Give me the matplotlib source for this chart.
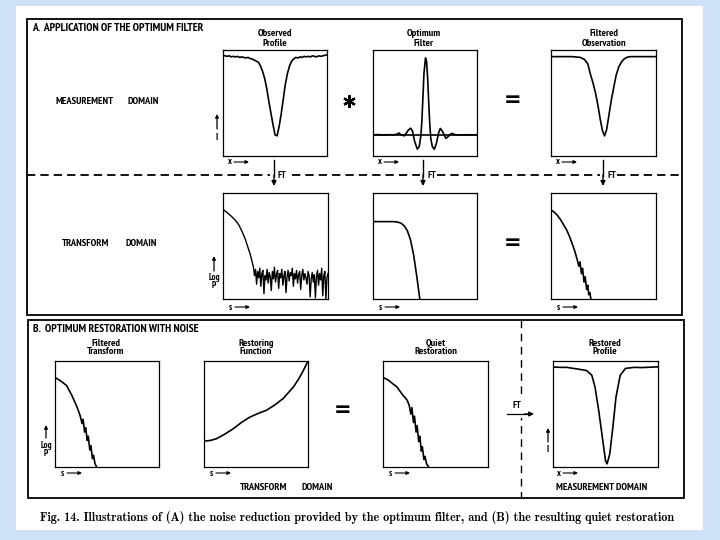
import matplotlib
matplotlib.use('Agg')
import matplotlib.pyplot as plt
from matplotlib.patches import Rectangle
import numpy as np

plt.rcParams['font.family'] = ['PT Sans Narrow', 'IBM Plex Sans Condensed', 'DejaVu Sans']

# ---------------- data (normalized panel coordinates) -------------
obs_profile_y = [0.95, 0.945, 0.94, 0.945, 0.935, 0.94, 0.935, 0.94, 0.93, 0.935,
                 0.93, 0.925, 0.93, 0.92, 0.915, 0.905, 0.895, 0.885, 0.85, 0.80,
                 0.735, 0.64, 0.52, 0.41, 0.30, 0.20, 0.19, 0.28, 0.40, 0.54,
                 0.68, 0.78, 0.85, 0.895, 0.915, 0.93, 0.925, 0.935, 0.93, 0.94,
                 0.935, 0.94, 0.935, 0.945, 0.94, 0.935, 0.945, 0.94, 0.945, 0.95,
                 0.955]

filter_x = [0.00, 0.05, 0.10, 0.15, 0.20, 0.23, 0.25, 0.27, 0.30, 0.32, 0.34, 0.363,
            0.38, 0.40, 0.426, 0.445, 0.46, 0.47, 0.48, 0.49, 0.505, 0.515, 0.525,
            0.535, 0.545, 0.555, 0.57, 0.59, 0.61, 0.63, 0.647, 0.67, 0.70, 0.73,
            0.757, 0.78, 0.80, 0.85, 0.90, 1.00]
filter_y = [0.20, 0.202, 0.198, 0.201, 0.20, 0.205, 0.217, 0.20, 0.19, 0.215, 0.245, 0.262,
            0.235, 0.14, 0.065, 0.09, 0.19, 0.33, 0.55, 0.78, 0.925, 0.89, 0.74,
            0.52, 0.32, 0.17, 0.09, 0.064, 0.12, 0.215, 0.26, 0.23, 0.166, 0.19,
            0.214, 0.205, 0.198, 0.20, 0.20, 0.20]
filter_baseline = 0.198

filt_obs_x = [0.00, 0.20, 0.28, 0.32, 0.35, 0.377, 0.40, 0.425, 0.45, 0.47, 0.49, 0.51,
              0.53, 0.55, 0.575, 0.60, 0.62, 0.645, 0.67, 0.69, 0.72, 0.755, 1.00]
filt_obs_y = [0.9375, 0.9375, 0.93, 0.91, 0.87, 0.766, 0.69, 0.59, 0.46, 0.34, 0.24, 0.19,
              0.25, 0.375, 0.53, 0.66, 0.76, 0.84, 0.885, 0.91, 0.93, 0.9375, 0.9375]

obs_tr_x = [0.00, 0.04, 0.08, 0.12, 0.15, 0.18, 0.21, 0.24, 0.26, 0.28, 0.29]
obs_tr_y = [0.845, 0.815, 0.78, 0.74, 0.70, 0.64, 0.57, 0.48, 0.42, 0.34, 0.30]
obs_tr_noise = [0.22, 0.28, 0.14, 0.26, 0.20, 0.29, 0.12, 0.24, 0.27, 0.05, 0.22, 0.18,
                0.28, 0.15, 0.25, 0.21, 0.08, 0.26, 0.19, 0.30, 0.16, 0.23, 0.27, 0.10,
                0.24, 0.20, 0.28, 0.13, 0.22, 0.26, 0.06, 0.21, 0.27, 0.17, 0.25, 0.22,
                0.29, 0.12, 0.24, 0.19, 0.27, 0.15, 0.23, 0.26, 0.09, 0.22, 0.28, 0.18,
                0.24, 0.20, 0.14, 0.26, 0.22, 0.02, 0.19, 0.25, 0.16, 0.23, 0.01, 0.21,
                0.27, 0.13, 0.24, 0.18, 0.29, 0.03, 0.22, 0.26, 0.00, 0.20, 0.24]

filt_tr_x = [0.00, 0.20, 0.24, 0.27, 0.30, 0.33, 0.36, 0.39, 0.42, 0.45]
filt_tr_y = [0.73, 0.73, 0.725, 0.715, 0.69, 0.645, 0.56, 0.42, 0.22, 0.0]

fobs_tr_x = [0.00, 0.03, 0.06, 0.09, 0.12, 0.15, 0.18, 0.21, 0.23, 0.25, 0.265, 0.275,
             0.29, 0.30, 0.315, 0.325, 0.34, 0.35, 0.36, 0.37, 0.38]
fobs_tr_y = [0.84, 0.82, 0.79, 0.75, 0.70, 0.65, 0.58, 0.50, 0.44, 0.37, 0.31, 0.35,
             0.24, 0.29, 0.16, 0.21, 0.09, 0.13, 0.04, 0.06, 0.0]

b_filt_tr_x = [0.00, 0.05, 0.11, 0.16, 0.21, 0.24, 0.26, 0.27, 0.285, 0.295, 0.31,
               0.32, 0.335, 0.345, 0.36, 0.37, 0.385, 0.40]
b_filt_tr_y = [0.845, 0.815, 0.77, 0.68, 0.57, 0.49, 0.41, 0.45, 0.33, 0.37, 0.25,
               0.29, 0.16, 0.20, 0.08, 0.11, 0.03, 0.0]

restore_x = [0.00, 0.06, 0.12, 0.20, 0.28, 0.36, 0.44, 0.52, 0.60, 0.68, 0.76, 0.81,
             0.86, 0.91, 0.955, 1.00]
restore_y = [0.245, 0.25, 0.267, 0.31, 0.36, 0.42, 0.47, 0.505, 0.535, 0.585, 0.645,
             0.70, 0.755, 0.83, 0.91, 1.00]

quiet_x = [0.00, 0.05, 0.10, 0.133, 0.18, 0.23, 0.25, 0.265, 0.275, 0.29, 0.30, 0.315,
           0.325, 0.34, 0.35, 0.365, 0.375, 0.39, 0.40, 0.415, 0.435]
quiet_y = [0.845, 0.82, 0.78, 0.755, 0.69, 0.63, 0.58, 0.50, 0.56, 0.42, 0.48, 0.33,
           0.39, 0.24, 0.29, 0.15, 0.19, 0.07, 0.10, 0.03, 0.0]

rest_prof_x = [0.00, 0.07, 0.13, 0.23, 0.32, 0.37, 0.40, 0.435, 0.47, 0.50, 0.515,
               0.54, 0.57, 0.60, 0.64, 0.69, 0.77, 0.85, 1.00]
rest_prof_y = [0.943, 0.94, 0.94, 0.925, 0.91, 0.865, 0.755, 0.535, 0.28, 0.06, 0.03,
               0.12, 0.375, 0.66, 0.865, 0.93, 0.94, 0.938, 0.945]

caption = ("Fig. 14. Illustrations of (A) the noise reduction provided by the optimum "
           "filter, and (B) the resulting quiet restoration")

# ---------------- figure ----------------
W, H = 720, 540
fig = plt.figure(figsize=(7.2, 5.4), dpi=100)
fig.patch.set_facecolor('#cfe1f6')

ov = fig.add_axes([0, 0, 1, 1])
ov.set_xlim(0, W)
ov.set_ylim(H, 0)
ov.axis('off')
ov.add_patch(Rectangle((16, 6), 687, 524, fc='white', ec='none'))
ov.add_patch(Rectangle((27, 19), 655, 296, fill=False, lw=1.3, ec='k'))
ov.add_patch(Rectangle((28, 320), 656, 178, fill=False, lw=1.3, ec='k'))


def rect(x0, y0, x1, y1):
    return [x0 / W, 1 - y1 / H, (x1 - x0) / W, (y1 - y0) / H]


def panel(x0, y0, x1, y1):
    ax = fig.add_axes(rect(x0, y0, x1, y1))
    ax.set_xlim(0, 1)
    ax.set_ylim(0, 1)
    ax.set_xticks([])
    ax.set_yticks([])
    for s in ax.spines.values():
        s.set_linewidth(0.9)
    return ax


def txt(x, y, s, size=7.5, ha='center', **kw):
    ov.text(x, y, s, ha=ha, va='center', fontsize=size, fontweight='bold', **kw)


def arrow(x0, y0, x1, y1, lw=0.9, ms=6):
    ov.annotate('', xy=(x1, y1), xytext=(x0, y0),
                arrowprops=dict(arrowstyle='-|>', color='k', lw=lw,
                                mutation_scale=ms, shrinkA=0, shrinkB=0))


def axis_label(x, y, letter):
    txt(x, y, letter, size=6.5, ha='left')
    arrow(x + 6, y, x + 21, y, lw=0.8, ms=5)


def equals(x, y):
    txt(x, y, '=', size=15, family=['DejaVu Sans'])


LW = 1.2
NLW = 1.2
# Top row
ax = panel(223, 50, 327, 156)
ax.plot(np.linspace(0, 1, len(obs_profile_y)), obs_profile_y, 'k', lw=LW)
ax = panel(373, 50, 477, 156)
ax.axhline(filter_baseline, color='k', lw=LW)
ax.plot(filter_x, filter_y, 'k', lw=LW)
ax = panel(551, 50, 656, 156)
ax.plot(filt_obs_x, filt_obs_y, 'k', lw=LW)

# Bottom row
ax = panel(223, 193, 328, 299)
nx = list(np.linspace(0.30, 1.0, len(obs_tr_noise)))
ax.plot(obs_tr_x + nx, obs_tr_y + obs_tr_noise, 'k', lw=1.0)
ax = panel(373, 193, 477, 299)
ax.plot(filt_tr_x, filt_tr_y, 'k', lw=LW)
ax = panel(551, 193, 656, 299)
ax.plot(fobs_tr_x, fobs_tr_y, 'k', lw=NLW)

# Panel B
ax = panel(55, 361, 159, 467)
ax.plot(b_filt_tr_x, b_filt_tr_y, 'k', lw=NLW)
ax = panel(204, 361, 308, 467)
ax.plot(restore_x, restore_y, 'k', lw=LW)
ax = panel(383, 361, 488, 467)
ax.plot(quiet_x, quiet_y, 'k', lw=NLW)
ax = panel(553, 361, 658, 467)
ax.plot(rest_prof_x, rest_prof_y, 'k', lw=LW)

# ---------------- annotations ----------------
txt(32, 28, 'A.  APPLICATION OF THE OPTIMUM FILTER', ha='left', size=8.3)
txt(275, 33, 'Observed'); txt(275, 43, 'Profile')
txt(424, 33, 'Optimum'); txt(424, 43, 'Filter')
txt(604, 33, 'Filtered'); txt(604, 43, 'Observation')
txt(55, 101, 'MEASUREMENT', ha='left')
txt(128, 101, 'DOMAIN', ha='left')
ov.plot([349], [101], marker=(6, 2, 0), ms=9, mew=1.6, color='k')
equals(513, 100)
arrow(217, 129, 217, 114, lw=0.9, ms=5)
txt(217, 137, 'I', size=7)
for xl in (228, 378, 556):
    axis_label(xl, 162, 'x')

# dashed separator with FT arrows
for xa, xb in ((27, 270), (292, 420), (437, 600), (617, 682)):
    ov.plot([xa, xb], [175, 175], color='k', lw=1.3, dashes=(4.6, 2.8))
for xa in (274, 423, 603):
    ov.plot([xa, xa], [160, 176], color='k', lw=1.0)
    arrow(xa, 175, xa, 186, lw=1.0, ms=7)
    txt(xa + 4, 175, 'FT', ha='left', size=7)

txt(62, 244, 'TRANSFORM', ha='left')
txt(125, 244, 'DOMAIN', ha='left')
equals(513, 243)
arrow(214, 271, 214, 256, lw=0.9, ms=5)
txt(214, 277, 'Log', size=6.5)
txt(214, 285, 'P', size=6.5)
for xl in (229, 379, 557):
    axis_label(xl, 307, 's')

# Panel B
txt(33, 329, 'B.  OPTIMUM RESTORATION WITH NOISE', ha='left', size=8.3)
txt(106, 343, 'Filtered'); txt(106, 352, 'Transform')
txt(256, 343, 'Restoring'); txt(256, 352, 'Function')
txt(436, 343, 'Quiet'); txt(436, 352, 'Restoration')
txt(605, 343, 'Restored'); txt(605, 352, 'Profile')
arrow(46, 438, 46, 425, lw=0.9, ms=5)
txt(46, 445, 'Log', size=6.5)
txt(46, 454, 'P', size=6.5)
arrow(548, 442, 548, 428, lw=0.9, ms=5)
txt(548, 449, 'I', size=7)
equals(343, 410)
ov.plot([521, 521], [320, 498], color='k', lw=1.0, dashes=(5.5, 4))
ov.add_patch(Rectangle((510, 398), 18, 20, fc='white', ec='none', zorder=3))
txt(517, 405, 'FT', size=7, zorder=4)
ov.plot([507, 530], [414, 414], color='k', lw=0.9, zorder=4)
ov.annotate('', xy=(534, 414), xytext=(524, 414), zorder=5,
            arrowprops=dict(arrowstyle='-|>', color='k', lw=0.9,
                            mutation_scale=7, shrinkA=0, shrinkB=0))
for xl in (61, 210, 389):
    axis_label(xl, 473, 's')
axis_label(557, 473, 'x')
txt(240, 487, 'TRANSFORM', ha='left')
txt(302, 487, 'DOMAIN', ha='left')
txt(556, 487, 'MEASUREMENT DOMAIN', ha='left')

ov.text(357, 517, caption, ha='center', va='center', fontsize=8.7,
        family=['cmb10', 'Liberation Serif'])

fig.savefig('out.png', dpi=100, facecolor=fig.get_facecolor())
